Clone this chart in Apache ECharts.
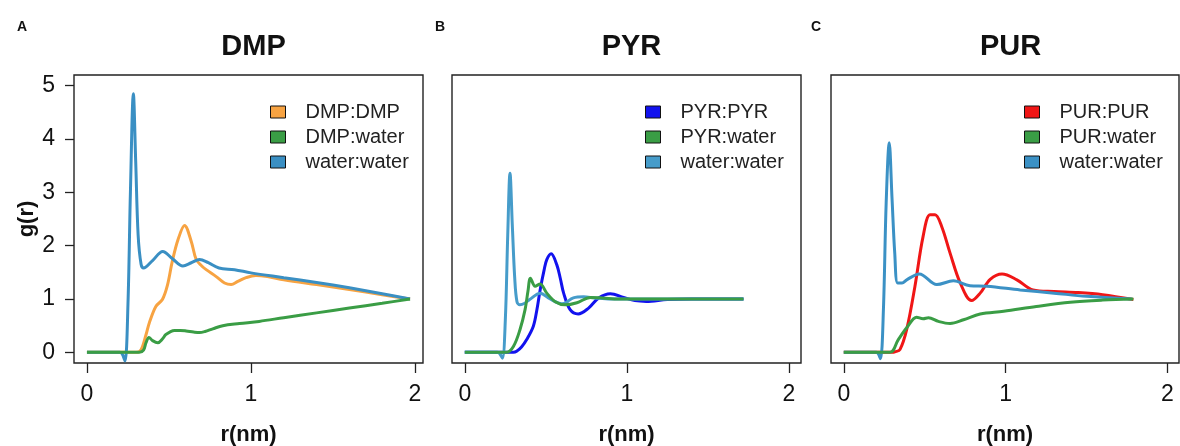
<!DOCTYPE html>
<html>
<head>
<meta charset="utf-8">
<script src="https://cdn.jsdelivr.net/npm/echarts@6/dist/echarts.min.js"></script>
<style>
html,body{margin:0;padding:0;background:#fff;}
#chart{width:1180px;height:446px;}
</style>
</head>
<body>
<div id="chart"></div>
<script>
// ---------- Panel A: DMP ----------
const dmpWaterR = [0, 0.20, 0.215, 0.232, 0.25, 0.265, 0.283, 0.297, 0.312, 0.33, 0.345, 0.40, 0.462, 0.52, 0.585, 0.636, 0.686, 0.74, 0.805, 0.90, 1.0, 1.2, 1.4, 1.6, 1.8, 1.97];
const dmpWaterG = [0, 0, -0.03, -0.16, 0.9, 3.0, 4.85, 3.6, 2.2, 1.65, 1.58, 1.72, 1.89, 1.76, 1.62, 1.68, 1.74, 1.68, 1.58, 1.55, 1.49, 1.40, 1.31, 1.21, 1.10, 1.0];
const dmpSelfR = [0, 0.30, 0.33, 0.36, 0.38, 0.42, 0.46, 0.49, 0.52, 0.555, 0.595, 0.636, 0.666, 0.70, 0.727, 0.788, 0.839, 0.879, 0.92, 0.97, 1.03, 1.1, 1.2, 1.4, 1.6, 1.8, 1.97];
const dmpSelfG = [0, 0, 0.05, 0.33, 0.55, 0.86, 0.99, 1.25, 1.70, 2.11, 2.38, 2.08, 1.74, 1.62, 1.55, 1.42, 1.30, 1.27, 1.33, 1.40, 1.44, 1.42, 1.36, 1.27, 1.18, 1.08, 1.0];
const dmpSolvR = [0, 0.32, 0.345, 0.36, 0.378, 0.40, 0.432, 0.46, 0.48, 0.51, 0.534, 0.57, 0.605, 0.65, 0.686, 0.72, 0.767, 0.828, 0.93, 1.05, 1.2, 1.4, 1.6, 1.8, 1.97];
const dmpSolvG = [0, 0, 0.04, 0.18, 0.28, 0.22, 0.18, 0.25, 0.33, 0.39, 0.41, 0.41, 0.40, 0.38, 0.37, 0.39, 0.44, 0.50, 0.54, 0.58, 0.65, 0.74, 0.83, 0.92, 1.0];

// ---------- Panel B: PYR ----------
const pyrWaterR = [0, 0.20, 0.215, 0.232, 0.25, 0.265, 0.279, 0.293, 0.308, 0.322, 0.34, 0.37, 0.40, 0.465, 0.527, 0.60, 0.67, 0.733, 0.80, 0.9, 1.0, 1.2, 1.4, 1.6, 1.72];
const pyrWaterG = [0, 0, -0.02, -0.11, 0.6, 2.2, 3.36, 2.4, 1.4, 0.95, 0.89, 0.92, 0.99, 1.11, 1.00, 0.91, 1.02, 1.04, 1.02, 1.0, 1.0, 1.0, 1.0, 1.0, 1.0];
const pyrSelfR = [0, 0.30, 0.32, 0.35, 0.382, 0.423, 0.445, 0.465, 0.49, 0.506, 0.533, 0.568, 0.59, 0.61, 0.65, 0.70, 0.764, 0.826, 0.898, 0.98, 1.05, 1.12, 1.25, 1.4, 1.6, 1.72];
const pyrSelfG = [0, 0, 0.02, 0.10, 0.24, 0.49, 0.80, 1.17, 1.55, 1.74, 1.85, 1.64, 1.38, 1.11, 0.80, 0.72, 0.83, 1.02, 1.10, 1.03, 0.97, 0.955, 0.99, 1.0, 1.0, 1.0];
const pyrSolvR = [0, 0.258, 0.30, 0.34, 0.372, 0.39, 0.405, 0.434, 0.465, 0.506, 0.558, 0.62, 0.692, 0.774, 0.85, 0.95, 1.1, 1.3, 1.5, 1.72];
const pyrSolvG = [0, 0, 0.11, 0.42, 0.80, 1.15, 1.39, 1.24, 1.28, 1.11, 0.95, 0.89, 0.93, 1.03, 1.02, 1.0, 1.0, 1.0, 1.0, 1.0];

// ---------- Panel C: PUR ----------
const purWaterR = [0, 0.20, 0.212, 0.227, 0.245, 0.262, 0.281, 0.298, 0.315, 0.333, 0.36, 0.389, 0.467, 0.575, 0.678, 0.78, 0.885, 1.09, 1.30, 1.5, 1.78];
const purWaterG = [0, 0, -0.02, -0.12, 0.8, 2.8, 3.93, 2.9, 1.86, 1.30, 1.30, 1.36, 1.47, 1.27, 1.34, 1.25, 1.24, 1.17, 1.11, 1.05, 1.0];
const purSelfR = [0, 0.30, 0.316, 0.347, 0.389, 0.44, 0.49, 0.533, 0.564, 0.605, 0.657, 0.72, 0.79, 0.843, 0.905, 0.978, 1.07, 1.17, 1.30, 1.45, 1.6, 1.79];
const purSelfG = [0, 0, 0.01, 0.05, 0.43, 1.24, 2.17, 2.58, 2.58, 2.36, 1.86, 1.30, 0.97, 1.11, 1.37, 1.47, 1.36, 1.17, 1.14, 1.12, 1.08, 0.99];
const purSolvR = [0, 0.285, 0.337, 0.389, 0.45, 0.49, 0.523, 0.585, 0.657, 0.74, 0.843, 0.988, 1.19, 1.40, 1.6, 1.79];
const purSolvG = [0, 0, 0.24, 0.46, 0.66, 0.63, 0.65, 0.58, 0.54, 0.61, 0.72, 0.77, 0.86, 0.94, 0.98, 1.0];

// ---------- Labels ----------
const panelTitles = ['DMP', 'PYR', 'PUR'];
const panelLetters = ['A', 'B', 'C'];
const legendNames = [
  ['DMP:DMP', 'DMP:water', 'water:water'],
  ['PYR:PYR', 'PYR:water', 'water:water'],
  ['PUR:PUR', 'PUR:water', 'water:water']
];
const xTicks = [0, 1, 2];
const yTicks = [0, 1, 2, 3, 4, 5];
const xLabel = 'r(nm)';
const yLabel = 'g(r)';

const FONT = 'Liberation Sans, Arial, Helvetica, sans-serif';
const C_ORANGE = '#F7A342';
const C_GREEN = '#3A9D45';
const C_WATER = ['#3A8FC3', '#469CCA', '#3B91C5'];
const C_SELF = [C_ORANGE, '#1212EE', '#F01616'];

const pairs = (r, g) => r.map((v, i) => [v, g[i]]);

const panelData = [
  [pairs(dmpSelfR, dmpSelfG), pairs(dmpSolvR, dmpSolvG), pairs(dmpWaterR, dmpWaterG)],
  [pairs(pyrSelfR, pyrSelfG), pairs(pyrSolvR, pyrSolvG), pairs(pyrWaterR, pyrWaterG)],
  [pairs(purSelfR, purSelfG), pairs(purSolvR, purSolvG), pairs(purWaterR, purWaterG)]
];

const grids = [
  {left: 74, top: 75, width: 349, height: 288},
  {left: 452, top: 75, width: 349, height: 288},
  {left: 831, top: 75, width: 348, height: 288}
];
const xRanges = [[-0.079, 2.049], [-0.079, 2.075], [-0.079, 2.072]];
const titleCenters = [248.5, 626.5, 1005.5];
const letterLefts = [12, 430, 806];
const legendLefts = [270, 645, 1024];

const option = {
  backgroundColor: '#fff',
  animation: false,
  title: [],
  grid: [],
  xAxis: [],
  yAxis: [],
  legend: [],
  series: []
};

for (let p = 0; p < 3; p++) {
  const g = grids[p];
  option.grid.push({
    left: g.left, top: g.top, width: g.width, height: g.height,
    outerBoundsMode: 'none', containLabel: false,
    show: true, borderColor: '#222', borderWidth: 1.4, backgroundColor: 'transparent'
  });
  option.title.push({
    text: panelTitles[p], left: titleCenters[p], top: 27, textAlign: 'center',
    textStyle: {fontFamily: FONT, fontWeight: 'bold', fontSize: 29, color: '#111'}
  });
  option.title.push({
    text: panelLetters[p], left: letterLefts[p], top: 15,
    textStyle: {fontFamily: FONT, fontWeight: 'bold', fontSize: 14, color: '#111'}
  });
  option.xAxis.push({
    type: 'value', gridIndex: p, min: xRanges[p][0], max: xRanges[p][1],
    axisLine: {show: false, onZero: false},
    splitLine: {show: false},
    axisTick: {show: true, inside: false, length: 10, customValues: xTicks, lineStyle: {color: '#222', width: 1.3}},
    axisLabel: {show: true, customValues: xTicks, margin: 20, fontSize: 23, fontFamily: FONT, color: '#111',
      formatter: v => String(v)},
    name: xLabel, nameLocation: 'middle', nameGap: 61,
    nameTextStyle: {fontFamily: FONT, fontWeight: 'bold', fontSize: 22, color: '#111'}
  });
  const y = {
    type: 'value', gridIndex: p, min: -0.2, max: 5.2,
    axisLine: {show: false, onZero: false},
    splitLine: {show: false},
    axisTick: {show: p === 0, inside: false, length: 9, customValues: yTicks, lineStyle: {color: '#222', width: 1.3}},
    axisLabel: {show: p === 0, customValues: yTicks, margin: 19, fontSize: 23, fontFamily: FONT, color: '#111',
      formatter: v => String(v)}
  };
  if (p === 0) {
    y.name = yLabel; y.nameLocation = 'middle'; y.nameGap = 36;
    y.nameTextStyle = {fontFamily: FONT, fontWeight: 'bold', fontSize: 22, color: '#111'};
  }
  option.yAxis.push(y);

  const colors = [C_SELF[p], C_GREEN, C_WATER[p]];
  option.legend.push({
    orient: 'vertical', left: legendLefts[p], top: 102, padding: 0,
    icon: 'rect', itemWidth: 15, itemHeight: 12, itemGap: 5,
    selectedMode: false,
    itemStyle: {borderColor: '#111', borderWidth: 1},
    textStyle: {fontFamily: FONT, fontSize: 20, color: '#222', lineHeight: 20, padding: [0, 0, 0, 15]},
    data: legendNames[p].map((n, i) => ({name: n, itemStyle: {color: colors[i]}}))
  });

  // draw order: self, water, solvent
  const order = [0, 2, 1];
  order.forEach(i => {
    option.series.push({
      type: 'line', name: legendNames[p][i], xAxisIndex: p, yAxisIndex: p,
      data: panelData[p][i], showSymbol: false, symbol: 'none',
      smooth: 0.35, clip: true,
      color: colors[i],
      lineStyle: {color: colors[i], width: 3},
      z: 2 + order.indexOf(i)
    });
  });
}

const chart = echarts.init(document.getElementById('chart'), null, {renderer: 'canvas'});
chart.setOption(option);
</script>
</body>
</html>
